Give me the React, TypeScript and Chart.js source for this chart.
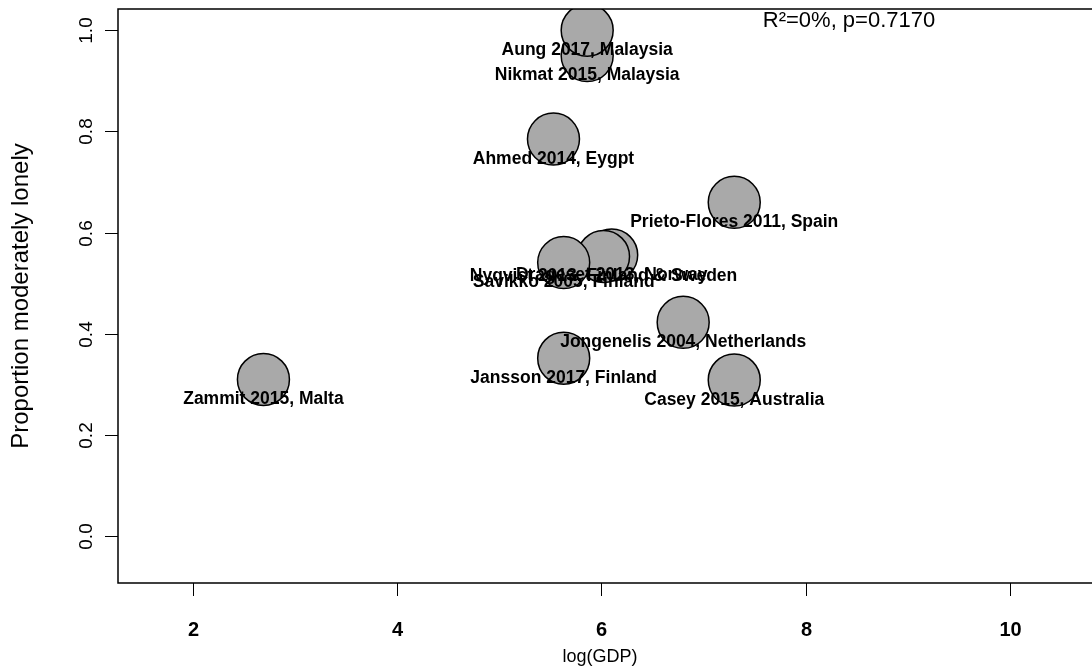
import { useEffect, useRef } from "react";
import { Chart, registerables } from "chart.js";
import type { Plugin } from "chart.js";

Chart.register(...registerables);

// Studies in drawing order (later ones are painted on top)
const studyLabels = [
  "Zammit 2015, Malta",
  "Nikmat 2015, Malaysia",
  "Aung 2017, Malaysia",
  "Ahmed 2014, Eygpt",
  "Prieto-Flores 2011, Spain",
  "Drageset 2013, Norway",
  "Nyqvist 2013, Finland & Sweden",
  "Savikko 2005, Finland",
  "Jongenelis 2004, Netherlands",
  "Jansson 2017, Finland",
  "Casey 2015, Australia",
];
const logGdpValues = [2.69, 5.86, 5.86, 5.53, 7.3, 6.1, 6.02, 5.63, 6.8, 5.63, 7.3];
const proportionLonely = [0.31, 0.95, 1.0, 0.785, 0.66, 0.556, 0.553, 0.541, 0.423, 0.352, 0.309];

const xTickValues = [2, 4, 6, 8, 10];
const xTickLabels = ["2", "4", "6", "8", "10"];
const yTickValues = [0, 0.2, 0.4, 0.6, 0.8, 1.0];
const yTickLabels = ["0.0", "0.2", "0.4", "0.6", "0.8", "1.0"];
const xAxisRange = [1.266, 10.803];
const yAxisRange = [-0.092, 1.042];
const xAxisTitle = "log(GDP)";
const yAxisTitle = "Proportion moderately lonely";
const fitSummary = "R\u00b2=0%, p=0.7170";

const FONT = '"Liberation Sans", Arial, Helvetica, sans-serif';

// Frame, axes, annotations and study labels drawn on top of the bubbles
const basePlot: Plugin<"bubble"> = {
  id: "basePlot",
  afterDatasetsDraw(chart) {
    const { ctx, chartArea: a, scales } = chart;
    const xs = scales.x;
    const ys = scales.y;
    ctx.save();
    ctx.fillStyle = "#000";

    // study labels below each point
    ctx.font = `bold 17.5px ${FONT}`;
    ctx.textAlign = "center";
    ctx.textBaseline = "middle";
    studyLabels.forEach((label, i) => {
      const px = xs.getPixelForValue(logGdpValues[i]);
      const py = ys.getPixelForValue(proportionLonely[i]);
      ctx.fillText(label, px, py + 20);
    });

    // plot frame (right side runs off the canvas)
    ctx.strokeStyle = "#000";
    ctx.lineWidth = 1.5;
    ctx.beginPath();
    ctx.moveTo(chart.width, a.top);
    ctx.lineTo(a.left, a.top);
    ctx.lineTo(a.left, a.bottom);
    ctx.lineTo(chart.width, a.bottom);
    ctx.stroke();

    // x axis ticks and labels
    ctx.lineWidth = 1;
    ctx.font = `bold 20px ${FONT}`;
    ctx.textAlign = "center";
    ctx.textBaseline = "middle";
    xTickValues.forEach((v, i) => {
      const px = Math.round(xs.getPixelForValue(v)) + 0.5;
      ctx.beginPath();
      ctx.moveTo(px, a.bottom);
      ctx.lineTo(px, a.bottom + 13);
      ctx.stroke();
      ctx.fillText(xTickLabels[i], px, a.bottom + 47);
    });

    // y axis ticks and rotated labels
    ctx.font = `19px ${FONT}`;
    yTickValues.forEach((v, i) => {
      const py = Math.round(ys.getPixelForValue(v)) + 0.5;
      ctx.beginPath();
      ctx.moveTo(a.left - 13, py);
      ctx.lineTo(a.left, py);
      ctx.stroke();
      ctx.save();
      ctx.translate(a.left - 31, py);
      ctx.rotate(-Math.PI / 2);
      ctx.fillText(yTickLabels[i], 0, 0);
      ctx.restore();
    });

    // axis titles
    ctx.font = `18px ${FONT}`;
    ctx.fillText(xAxisTitle, 600, a.bottom + 74);
    ctx.font = `24px ${FONT}`;
    ctx.save();
    ctx.translate(21, (a.top + a.bottom) / 2);
    ctx.rotate(-Math.PI / 2);
    ctx.fillText(yAxisTitle, 0, 0);
    ctx.restore();

    // model fit summary
    ctx.font = `22px ${FONT}`;
    ctx.fillText(fitSummary, 849, 21);

    ctx.restore();
  },
};

export default function App() {
  const canvasRef = useRef<HTMLCanvasElement>(null);

  useEffect(() => {
    document.body.style.margin = "0";
    const canvas = canvasRef.current;
    if (!canvas) return;
    const chart = new Chart(canvas, {
      type: "bubble",
      data: {
        datasets: [
          {
            data: logGdpValues.map((x, i) => ({ x, y: proportionLonely[i] })),
            backgroundColor: "#a9a9a9",
            borderColor: "#000",
            borderWidth: 1.5,
            radius: 26,
            clip: 0,
          },
        ],
      },
      options: {
        responsive: false,
        animation: false,
        events: [],
        layout: { autoPadding: false, padding: { left: 118, top: 9, right: 0, bottom: 88 } },
        plugins: { legend: { display: false }, tooltip: { enabled: false } },
        scales: {
          x: { type: "linear", display: false, min: xAxisRange[0], max: xAxisRange[1] },
          y: { type: "linear", display: false, min: yAxisRange[0], max: yAxisRange[1] },
        },
      },
      plugins: [basePlot],
    });
    return () => chart.destroy();
  }, []);

  return <canvas ref={canvasRef} width={1092} height={671} style={{ display: "block" }} />;
}
